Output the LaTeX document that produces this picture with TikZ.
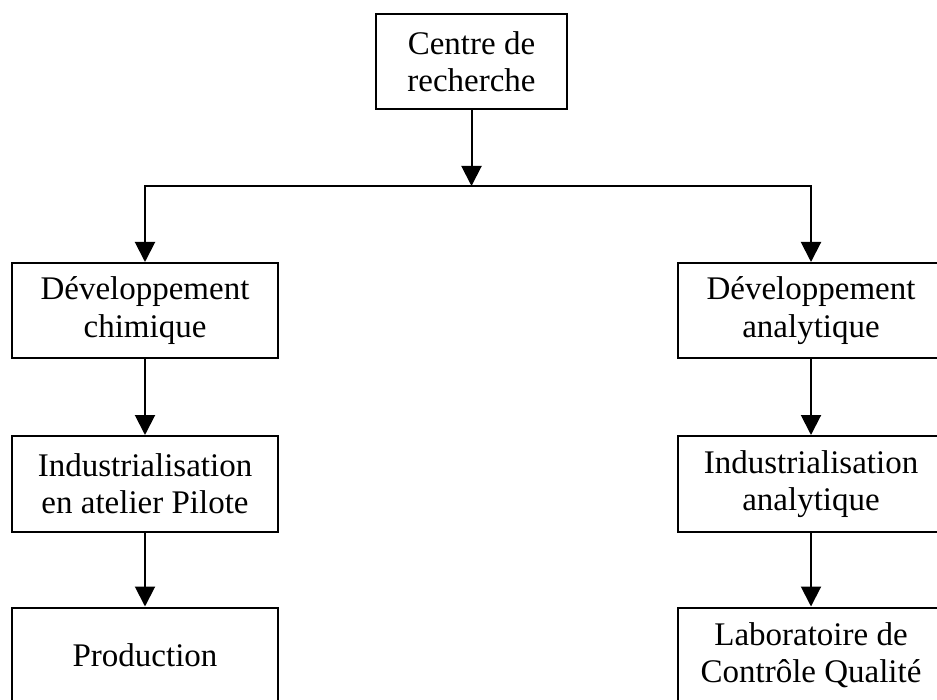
\documentclass[tikz,border=0pt]{standalone}
\usepackage{fontspec}
\setmainfont{Liberation Serif}
\usetikzlibrary{arrows.meta}

\begin{document}
\begin{tikzpicture}[x=0.5pt,y=-0.5pt,
    boite/.style={draw,line width=1pt,inner sep=0pt,align=center,
        font=\fontsize{16.5pt}{18.7pt}\selectfont},
    fleche/.style={line width=1pt,-{Triangle[length=10pt,width=10pt]}}]
    \useasboundingbox (0,0) rectangle (937,700);
    \node[boite,minimum width=95.5pt,minimum height=47.5pt] (crech) at (471.5,61.5) {Centre de\\recherche};
    \node[boite,minimum width=133pt,minimum height=47.5pt] (devchim) at (145,310.5) {Développement\\chimique};
    \node[boite,minimum width=133pt,minimum height=48pt] (indpil) at (145,484) {Industrialisation\\en atelier Pilote};
    \node[boite,minimum width=133pt,minimum height=48pt] (prod) at (145,655.5) {Production};
    \node[boite,minimum width=133pt,minimum height=47.5pt] (devana) at (811,310.5) {Développement\\analytique};
    \node[boite,minimum width=133pt,minimum height=48pt] (indana) at (811,484) {Industrialisation\\analytique};
    \node[boite,minimum width=133pt,minimum height=48pt] (labo) at (811,655.5) {Laboratoire de\\Contrôle Qualité};
    \coordinate (bus) at (471.5,186);
    \draw[fleche] (crech) -- (bus);
    \draw[fleche] (bus) -| (devchim);
    \draw[fleche] (bus) -| (devana);
    \draw[fleche] (devchim) -- (indpil);
    \draw[fleche] (indpil) -- (prod);
    \draw[fleche] (devana) -- (indana);
    \draw[fleche] (indana) -- (labo);
\end{tikzpicture}
\end{document}
